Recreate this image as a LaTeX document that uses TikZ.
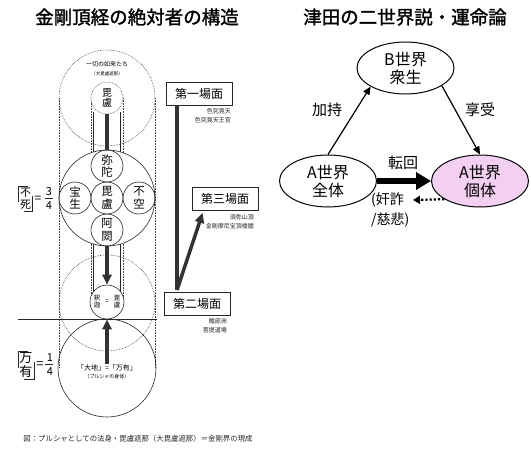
\documentclass[tikz,border=0pt]{standalone}
\usepackage{fontspec}
\setmainfont{Noto Sans CJK JP}
\newfontfamily\tfont[FakeBold=1.5]{Noto Sans CJK JP}
\usetikzlibrary{shapes.geometric,arrows.meta}
\definecolor{pinkA}{RGB}{243,207,241}
\begin{document}
\begin{tikzpicture}[x=1pt,y=-1pt,
 dotl/.style={densely dotted, line width=0.6pt, draw=black!75},
 solidl/.style={line width=0.6pt, draw=black!85},
 bud/.style={circle, draw=black!85, line width=0.6pt, minimum size=32pt, inner sep=0pt, align=center, font=\fontsize{11.5}{12.5}\selectfont},
 bar/.style={line width=3.5pt, draw=black!80},
 bartip/.style={-{Triangle[length=10pt,width=9pt]}},
 scene/.style={draw=black!85, line width=0.7pt, minimum width=66pt, minimum height=23pt, inner sep=0pt, font=\fontsize{12}{12}\selectfont},
 note/.style={font=\fontsize{6}{9.5}\selectfont, align=right, anchor=north east, inner sep=0pt, text=black!85},
 ell/.style={ellipse, draw, line width=1pt, minimum width=97pt, minimum height=52pt, inner sep=0pt, align=center, font=\fontsize{16}{18}\selectfont},
 lab/.style={font=\fontsize{15}{17}\selectfont},
 thinarrow/.style={line width=1.2pt, -{Triangle[length=8pt,width=7pt]}}
]
\useasboundingbox (0,0) rectangle (531,455);

% ---------- left diagram ----------
\node[font=\tfont\fontsize{18.5}{20}\selectfont] (ltitle) at (137,17) {金剛頂経の絶対者の構造};

\draw[dotl] (107,98) circle[radius=48pt];
\draw[dotl] (107,303) circle[radius=48pt];
\draw[dotl] (59,98) -- (59,367);
\draw[dotl] (155,98) -- (155,367);
\draw[dotl] (91,98) -- (91,302);
\draw[dotl] (123,98) -- (123,302);
\draw[solidl] (93.5,112) -- (93.5,294);
\draw[solidl] (120.5,112) -- (120.5,294);

\node[circle, draw=black!85, line width=0.6pt, fill=white, minimum size=96pt] (mandala) at (107,198) {};
\node[circle, draw=black!85, line width=0.6pt, minimum size=98pt] (earth) at (107,368) {};
\node[circle, dotl, draw, fill=white, minimum size=32pt, inner sep=0pt, align=center, font=\fontsize{10}{10.5}\selectfont] (topbiru) at (107,98) {毘\\盧};

\node[bud] (mida) at (107,166) {弥\\陀};
\node[bud] (biru) at (107,198) {毘\\盧};
\node[bud] (ashuku) at (107,230) {阿\\閦};
\node[bud] (hosho) at (75,198) {宝\\生};
\node[bud] (fuku) at (139,198) {不\\空};

\node[circle, draw=black!85, line width=0.6pt, fill=white, minimum size=34pt, inner sep=0pt] (shaka) at (107,302) {};
\node[font=\fontsize{6.5}{7}\selectfont, align=center, inner sep=0pt] (shakaL) at (97,302) {釈\\迦};
\node[font=\fontsize{7}{7}\selectfont, inner sep=0pt] (shakaEq) at (107,302) {=};
\node[font=\fontsize{6.5}{7}\selectfont, align=center, inner sep=0pt] (shakaR) at (117,302) {毘\\盧};

\coordinate (hlL) at (18,319);
\coordinate (hlR) at (157,319);
\draw[solidl] (hlL) -- (hlR);

\node[font=\fontsize{6}{7}\selectfont] (issai) at (107,64) {一切の如来たち};
\node[font=\fontsize{4.5}{5}\selectfont] (daibiru) at (107,74) {（大毘盧遮那）};
\node[font=\fontsize{7}{8}\selectfont, inner sep=1pt, fill=white] (daichi) at (107,368) {「大地」=「万有」};
\node[font=\fontsize{5}{6}\selectfont, inner sep=1pt] (purusha) at (107,377) {（プルシャの身体）};

\draw[bar] (topbiru.south) -- (mida.north);
\draw[bar, bartip] (ashuku.south) -- (shaka.north);
\draw[bar, bartip] (daichi.north) -- (shaka.south);

% left-side labels
\node[font=\fontsize{11}{12}\selectfont, align=center, inner sep=1.5pt] (fushi) at (25.5,199) {不\\死};
\draw[solidl] ([xshift=2pt]fushi.north) -- (fushi.north west) -- ([yshift=-3pt]fushi.west);
\draw[solidl] ([xshift=-2pt]fushi.south) -- (fushi.south east) -- ([yshift=3pt]fushi.east);
\node[font=\fontsize{12}{12}\selectfont] (eq1) at (38,199) {=};
\node[font=\fontsize{11}{11}\selectfont, inner sep=0pt] (num3) at (49,192) {3};
\node[font=\fontsize{11}{11}\selectfont, inner sep=0pt] (den4) at (49,206) {4};
\draw[solidl] (num3.south west) ++(-1pt,-2pt) coordinate (fr1a) -- ++(8pt,0) coordinate (fr1b);

\node[font=\fontsize{13}{14}\selectfont, align=center, inner sep=1.5pt] (banyu) at (26,365) {万\\有};
\draw[solidl] ([xshift=2pt]banyu.north) -- (banyu.north west) -- ([yshift=-3pt]banyu.west);
\draw[solidl] ([xshift=-2pt]banyu.south) -- (banyu.south east) -- ([yshift=3pt]banyu.east);
\node[font=\fontsize{13}{13}\selectfont] (eq2) at (40,365) {=};
\node[font=\fontsize{11}{11}\selectfont, inner sep=0pt] (num1) at (50,358) {1};
\node[font=\fontsize{11}{11}\selectfont, inner sep=0pt] (den4b) at (50,372) {4};
\draw[solidl] (num1.south west) ++(-2pt,-2pt) coordinate (fr2a) -- ++(8pt,0) coordinate (fr2b);

% scene boxes
\node[scene] (s1) at (199,93.5) {第一場面};
\node[scene] (s3) at (225,199) {第三場面};
\node[scene] (s2) at (197,303.5) {第二場面};
\node[note] (n1) at (231,108) {色究竟天\\色究竟天王宮};
\node[note] (n3) at (254,214) {須弥山頂\\金剛摩尼宝頂楼閣};
\node[note] (n2) at (227,318) {贍部洲\\菩提道場};

\coordinate (bend) at (177,290);
\draw[bar] (s1.south -| bend) -- (bend);
\draw[bar, bartip] (bend) -- ([xshift=11pt,yshift=-2pt]s3.south west);

\node[font=\fontsize{7.4}{8}\selectfont, text=black!85] (cap) at (138,439) {図：プルシャとしての法身・毘盧遮那（大毘盧遮那）＝金剛界の現成};

% ---------- right diagram ----------
\node[font=\tfont\fontsize{18.5}{20}\selectfont] (rtitle) at (405,17) {津田の二世界説・運命論};
\node[ell] (b) at (405.5,68) {B世界\\衆生};
\node[ell] (aall) at (328,181) {A世界\\全体};
\node[ell, fill=pinkA] (aind) at (480,181) {A世界\\個体};

\draw[thinarrow] (aall.north) -- (b.208);
\draw[thinarrow] (b.334) -- (aind.north);
\draw[line width=5.5pt, -{Triangle[length=15pt,width=17pt]}] (aall.east) -- (aind.west);

\node[lab] (kaji) at (327,110) {加持};
\node[lab] (kyoju) at (480,110) {享受};
\node[lab] (tenkai) at (403,163) {転回};

\coordinate (dend) at (413,200);
\draw[line width=2.2pt, dotted, -{Triangle[length=7pt,width=8pt]}] (aind.207) -- (dend);
\node[font=\fontsize{14}{20}\selectfont, align=left, anchor=west, inner sep=0pt] (kansa) at (371,210) {(奸詐\\/慈悲)};
\end{tikzpicture}
\end{document}
